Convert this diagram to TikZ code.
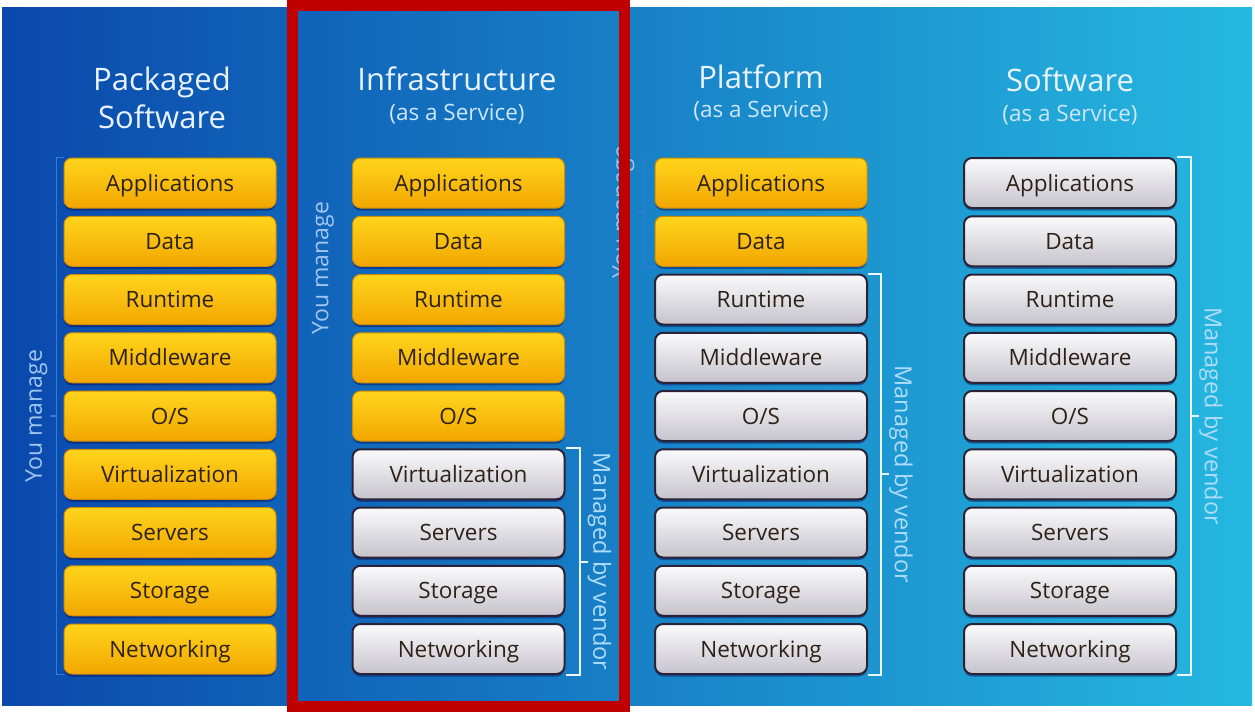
\documentclass[tikz,border=0pt]{standalone}
\usepackage{fontspec}
\setmainfont{Open Sans}
\usetikzlibrary{calc,shadows}

\definecolor{bgleft}{HTML}{0A48AC}
\definecolor{bgmid}{HTML}{0F6CC8}
\definecolor{bgright}{HTML}{25B8E0}
\definecolor{goldtop}{HTML}{FFD51C}
\definecolor{goldbot}{HTML}{F2A600}
\definecolor{goldline}{HTML}{D08C00}
\definecolor{greytop}{HTML}{FAFAFC}
\definecolor{greybot}{HTML}{C6C3CC}
\definecolor{greyline}{HTML}{2A2236}
\definecolor{boxtext}{HTML}{2E2218}
\definecolor{titletext}{HTML}{E8F3FF}
\definecolor{subtext}{HTML}{CDE6FA}
\definecolor{youblue}{HTML}{2F7DDA}
\definecolor{youtext}{HTML}{9FC6F2}
\definecolor{vendortext}{HTML}{AEDCFA}
\definecolor{frame}{HTML}{C00000}

\tikzset{
  layer/.style={rounded corners=8pt, minimum width=212pt, minimum height=50pt, inner sep=0pt,
    text height=16pt, text depth=0pt, font=\fontsize{22.5}{26}\selectfont, text=boxtext,
    drop shadow={shadow xshift=0pt, shadow yshift=-2.5pt, opacity=.4, fill=black!70!blue}},
  own/.style={layer, draw=goldline, line width=1pt, top color=goldtop, bottom color=goldbot},
  vendor/.style={layer, draw=greyline, line width=2pt, top color=greytop, bottom color=greybot},
  title/.style={anchor=base, text=titletext, font=\fontsize{31}{34}\selectfont},
  subtitle/.style={anchor=base, text=subtext, font=\fontsize{22.5}{26}\selectfont},
  youbr/.style={draw=youblue, line width=1.6pt},
  vendorbr/.style={draw=white!92!cyan, line width=2pt},
  youlabel/.style={rotate=90, text=youtext, font=\fontsize{23}{26}\selectfont},
  vendorlabel/.style={rotate=-90, text=vendortext, font=\fontsize{23.5}{26}\selectfont}
}

\begin{document}
\begin{tikzpicture}[x=1pt,y=-1pt]
\useasboundingbox (0,0) rectangle (1255,712);

% white page and blue panel
\fill[white] (0,0) rectangle (1255,712);
\fill[left color=bgleft, middle color=bgmid, right color=bgright] (2,7) rectangle (1252,705);

% column titles
\node[title] (pk) at (162,90) {Packaged};
\node[title] (pk2) at (162,128) {Software};
\node[title] (ia) at (457,90) {Infrastructure};
\node[subtitle] (ia2) at (457,120) {(as a Service)};
\node[title] (pa) at (761,88) {Platform};
\node[subtitle] (pa2) at (761,117) {(as a Service)};
\node[title] (sa) at (1070,91) {Software};
\node[subtitle] (sa2) at (1070,121) {(as a Service)};

% the nine layers in each column
\foreach \lbl [count=\i] in {Applications,Data,Runtime,Middleware,O/S,Virtualization,Servers,Storage,Networking} {
  \node[own] (pk\i) at (170,{183+(\i-1)*58.25}) {\lbl};
  \ifnum\i<6 \tikzset{mine/.style=own}\else\tikzset{mine/.style=vendor}\fi
  \node[mine] (ia\i) at (458.5,{183+(\i-1)*58.25}) {\lbl};
  \ifnum\i<3 \tikzset{mine/.style=own}\else\tikzset{mine/.style=vendor}\fi
  \node[mine] (pa\i) at (761,{183+(\i-1)*58.25}) {\lbl};
  \node[vendor] (sa\i) at (1070,{183+(\i-1)*58.25}) {\lbl};
}

% you manage
\draw[youbr] (pk1.north west) -- ++(-7,0) |- (pk9.south west);
\draw[youbr] ($(pk1.north west)!.5!(pk9.south west)+(-7,0)$) -- ++(-7,0);
\node[youlabel] (pkyou) at ($(pk1.north west)!.5!(pk9.south west)+(-27,0)$) {You manage};
\node[youlabel] (iayou) at (323,268) {You manage};
\draw[youbr] (pa1.north west) -- ++(-10,0) |- (pa2.south west);
\draw[youbr] ($(pa1.north west)!.5!(pa2.south west)+(-10,0)$) -- ++(-8,0);
\node[youlabel] (payou) at ($(pa1.north west)!.5!(pa2.south west)+(-31,0)$) {You manage};

% managed by vendor
\draw[vendorbr] (ia6.north east) -- ++(14,0) |- (ia9.south east);
\draw[vendorbr] ($(ia6.north east)!.5!(ia9.south east)+(14,0)$) -- ++(8,0);
\node[vendorlabel] (iavnd) at ($(ia6.north east)!.5!(ia9.south east)+(34,0)$) {Managed by vendor};
\draw[vendorbr] (pa3.north east) -- ++(13,0) |- (pa9.south east);
\draw[vendorbr] ($(pa3.north east)!.5!(pa9.south east)+(13,0)$) -- ++(8,0);
\node[vendorlabel] (pavnd) at ($(pa3.north east)!.5!(pa9.south east)+(33,0)$) {Managed by vendor};
\draw[vendorbr] (sa1.north east) -- ++(14,0) |- (sa9.south east);
\draw[vendorbr] ($(sa1.north east)!.5!(sa9.south east)+(14,0)$) -- ++(8,0);
\node[vendorlabel] (savnd) at ($(sa1.north east)!.5!(sa9.south east)+(34,0)$) {Managed by vendor};

% red frame round iaas
\draw[frame, line width=11pt] (292.5,5.5) rectangle (624.5,706.5);

\end{tikzpicture}
\end{document}
